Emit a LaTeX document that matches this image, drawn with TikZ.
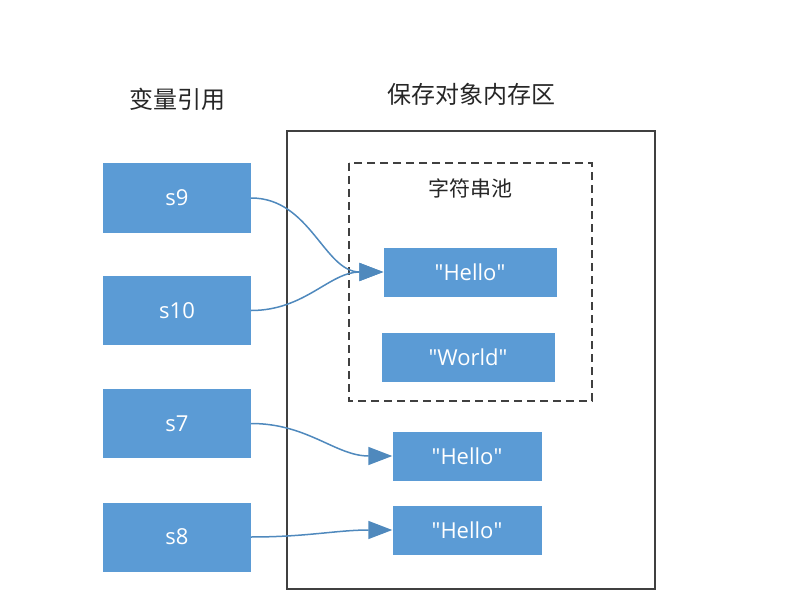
\documentclass[tikz,border=0pt]{standalone}
\usepackage{fontspec}
\setmainfont{Open Sans}
\newfontfamily\cjk{Noto Sans CJK SC}
\usetikzlibrary{arrows.meta}

\definecolor{boxblue}{HTML}{5B9BD5}
\definecolor{linkblue}{HTML}{4F89BD}
\definecolor{framegray}{HTML}{404040}

\tikzstyle{title} = [font=\cjk\fontsize{24}{28}\selectfont,text=black!85]
\tikzstyle{refbox} = [rectangle,fill=boxblue,text=white,minimum width=148pt,minimum height=69pt,inner sep=0pt,font=\fontsize{22}{26}\selectfont]
\tikzstyle{strbox} = [rectangle,fill=boxblue,text=white,minimum height=49pt,inner sep=0pt,font=\fontsize{22}{26}\selectfont]
\tikzstyle{arrowdecorate} = [-{Triangle[length=24pt,width=18pt]},draw=linkblue,line width=1.5pt]

\begin{document}
\begin{tikzpicture}[x=1pt,y=-1pt]
    \useasboundingbox (0,0) rectangle (785,599);
    %% frames
    \draw[framegray,line width=1.5pt] (287,131) rectangle (655,589);
    \draw[framegray,line width=1.2pt,dash pattern=on 8pt off 5pt] (349,163) rectangle (592,401);
    %% titles
    \node[title] (reftitle) at (177,99) {变量引用};
    \node[title] (memtitle) at (471,94) {保存对象内存区};
    \node[title,font=\cjk\fontsize{21}{26}\selectfont] (pooltitle) at (470,188) {字符串池};
    %% variable references
    \foreach \nodename/\y in {s9/198, s10/310.5, s7/423.5, s8/537}
    {
      \node[refbox] (\nodename) at (177,\y) {\nodename};
    }
    %% string objects
    \foreach \nodename/\value/\x/\y/\w in {
      h1/Hello/470/272/173,
      w1/World/468/357/173,
      h2/Hello/467/456/149,
      h3/Hello/467/530/149}
    {
      \node[strbox,minimum width=\w pt] (\nodename) at (\x,\y) {\textquotedbl\value\textquotedbl};
    }
    %% references
    \path
    \foreach \startnode/\endnode in {
      s9/h1, s10/h1, s7/h2, s8/h3}
    {
      (\startnode.east) edge[arrowdecorate,out=0,in=180] (\endnode.west)
    };
\end{tikzpicture}
\end{document}
